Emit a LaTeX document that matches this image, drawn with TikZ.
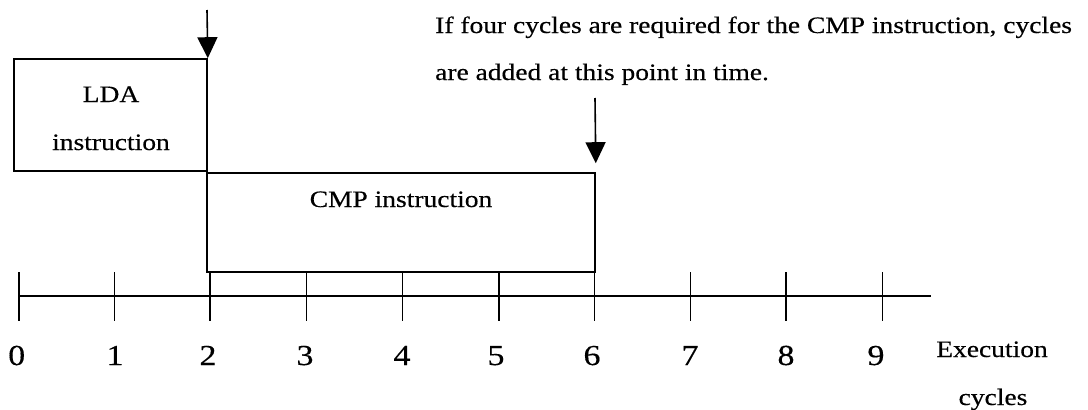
\documentclass[tikz,border=0pt]{standalone}
\usepackage{fontspec}
\setmainfont{Liberation Serif}[FakeStretch=1.17,FakeBold=0.4]
\usetikzlibrary{arrows.meta}
\begin{document}
\begin{tikzpicture}[x=1pt,y=-1pt,
  txt/.style={inner sep=0pt,anchor=base,font=\fontsize{23.5}{28}\selectfont},
  num/.style={inner sep=0pt,anchor=base,font=\fontsize{29}{34}\selectfont},
  boxst/.style={draw,line width=1.6pt,inner sep=0pt,minimum width=#1},
  tickst/.style={line width=1.3pt},
  arr/.style={line width=1.6pt,-{Triangle[width=20pt,length=21pt]}}]
\useasboundingbox[fill=white] (0,0) rectangle (1088,410);
% boxes
\node[boxst=193pt,minimum height=112pt] (lda) at (110.5,115) {};
\node[boxst=388pt,minimum height=99pt] (cmp) at (401,222.5) {};
\node[txt] (ldat1) at (111,102) {LDA};
\node[txt] (ldat2) at (111,150) {instruction};
\node[txt] (cmpt) at (401,207) {CMP instruction};
% note
\node[txt,anchor=base west] (note1) at (435,33) {If four cycles are required for the CMP instruction, cycles};
\node[txt,anchor=base west] (note2) at (435,80) {are added at this point in time.};
% arrows
\coordinate (a1) at (207,10);
\coordinate (a2) at (595,98);
\draw[arr] (a1) -- (lda.north east);
\draw[arr] (a2) -- ([yshift=9pt]cmp.north east);
% axis
\coordinate (axs) at (19,296);
\coordinate (axe) at (931,296);
\draw[tickst] (axs) -- (axe);
\foreach \i/\tx/\lx in {0/19/16.7,1/114.5/115,2/210/208,3/306.5/305,4/402.5/402,5/499/496,6/594.7/592,7/690.5/690,8/786/786,9/882.7/876}{
  \coordinate (t\i a) at (\tx,272);
  \coordinate (t\i b) at (\tx,321);
  \draw[tickst] (t\i a) -- (t\i b);
  \node[num] (n\i) at (\lx,365) {\i};
}
\node[txt] (exe) at (992,357) {Execution};
\node[txt] (cyc) at (993,405) {cycles};
\end{tikzpicture}
\end{document}
